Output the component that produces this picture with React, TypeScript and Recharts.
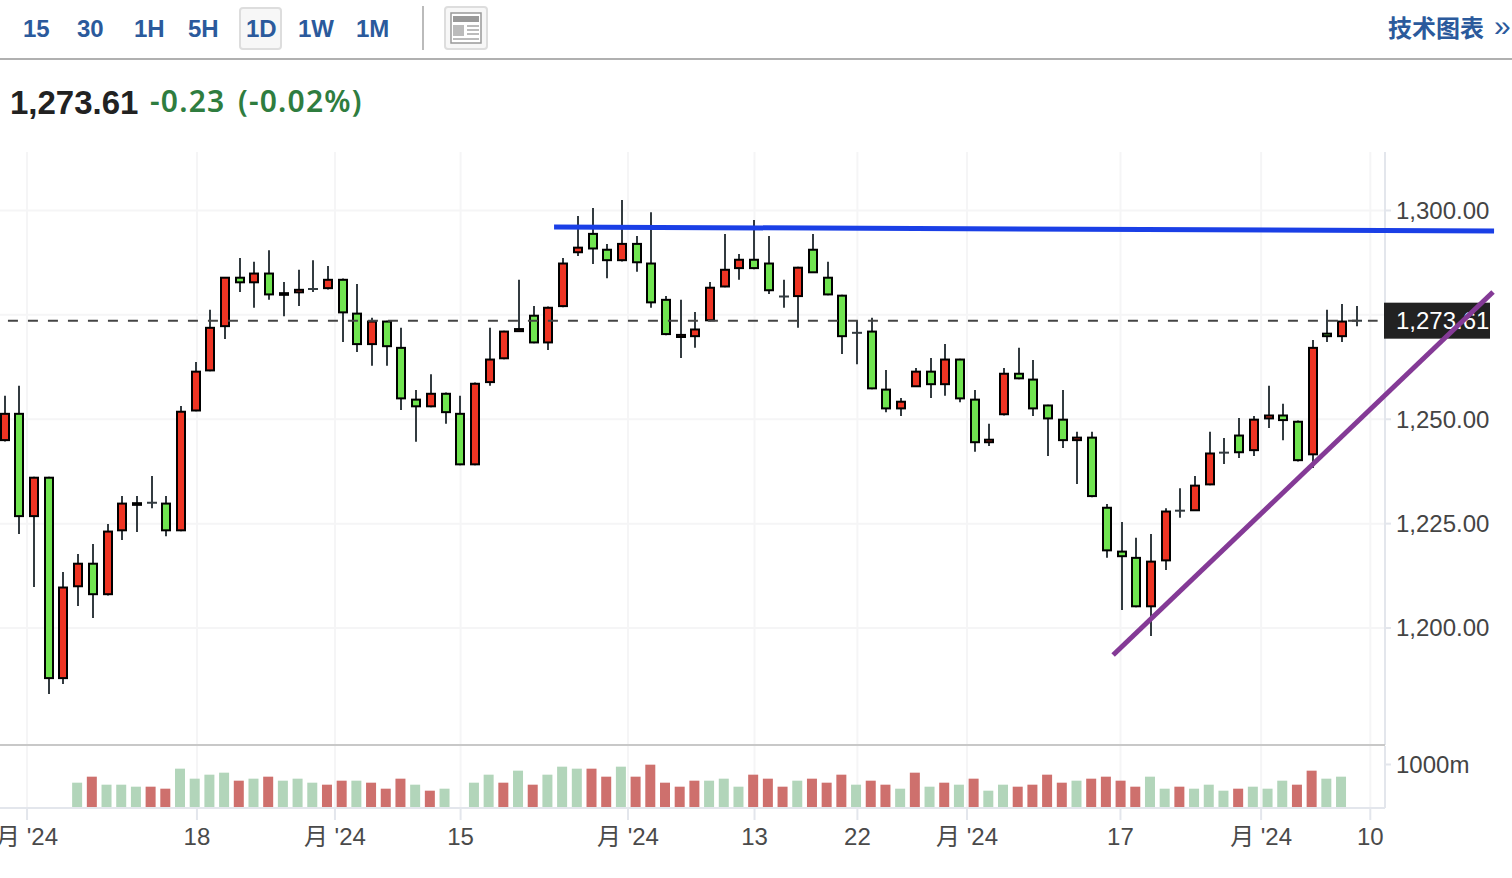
import React from "react";
import { Bar, CartesianGrid, ComposedChart, ReferenceLine, XAxis, YAxis } from "recharts";

const opens = [1245.0,1251.3,1226.8,1236.0,1188.0,1210.0,1215.4,1208.1,1223.4,1229.5,1230.0,1229.8,1223.4,1252.1,1261.7,1272.3,1283.9,1282.8,1284.9,1279.8,1280.4,1281.2,1281.4,1283.4,1275.3,1268.0,1273.4,1267.1,1254.7,1253.1,1256.1,1251.3,1239.2,1258.9,1264.6,1271.1,1274.8,1268.4,1277.1,1290.0,1294.4,1290.6,1288.1,1292.0,1287.3,1278.6,1269.7,1269.9,1273.7,1281.8,1286.2,1288.2,1287.3,1279.4,1279.5,1290.6,1283.9,1279.6,1270.7,1271.0,1257.1,1252.6,1257.9,1261.4,1258.4,1264.3,1254.7,1244.5,1251.2,1260.9,1259.5,1253.3,1249.9,1245.0,1245.6,1228.8,1218.3,1216.8,1205.2,1216.2,1228.1,1228.2,1234.4,1242.0,1246.1,1242.6,1250.2,1250.9,1249.4,1241.6,1270.5,1269.9,1273.6];
const highs = [1255.6,1258.0,1236.2,1236.2,1213.4,1217.7,1220.1,1224.9,1231.6,1231.6,1236.4,1231.6,1253.2,1263.7,1276.2,1284.1,1288.6,1287.7,1290.5,1282.9,1285.8,1288.1,1286.7,1283.7,1282.4,1274.3,1273.6,1271.9,1257.0,1260.8,1256.4,1255.6,1258.8,1271.9,1271.2,1283.4,1277.1,1277.0,1288.6,1298.7,1300.6,1292.0,1302.5,1293.9,1299.6,1279.5,1278.6,1275.7,1282.9,1294.4,1289.6,1297.7,1293.9,1283.4,1286.5,1294.4,1287.7,1279.8,1273.6,1274.3,1261.8,1255.1,1262.3,1264.7,1268.0,1264.5,1257.0,1248.9,1262.3,1267.1,1264.2,1253.5,1257.0,1247.0,1247.0,1229.7,1225.4,1221.6,1222.5,1228.7,1233.5,1236.4,1247.0,1245.5,1250.3,1250.8,1258.0,1253.7,1249.7,1269.0,1276.2,1277.6,1277.1];
const lows = [1244.7,1222.5,1209.8,1184.2,1186.6,1205.3,1202.4,1207.8,1221.1,1223.0,1228.7,1222.0,1223.2,1251.9,1261.5,1269.2,1280.5,1276.7,1278.6,1274.7,1277.1,1280.5,1281.1,1268.5,1266.1,1262.8,1262.8,1252.2,1244.6,1252.9,1248.9,1239.0,1239.0,1258.0,1264.4,1270.9,1268.2,1266.6,1276.8,1289.1,1287.2,1283.8,1287.8,1285.3,1276.7,1270.1,1264.7,1267.1,1273.5,1281.6,1283.4,1285.9,1280.0,1276.7,1271.9,1285.0,1279.7,1265.6,1263.2,1257.2,1251.7,1250.8,1257.7,1255.1,1255.6,1254.1,1242.2,1243.6,1250.9,1259.6,1250.8,1241.2,1243.1,1234.5,1231.3,1216.8,1204.3,1205.0,1198.1,1213.9,1226.4,1228.0,1234.2,1239.3,1240.7,1241.2,1247.9,1245.0,1239.9,1238.3,1268.5,1268.5,1272.3];
const closes = [1251.3,1226.8,1236.0,1188.0,1209.7,1215.4,1208.1,1223.1,1229.8,1229.9,1230.0,1223.4,1251.8,1261.4,1271.9,1283.9,1282.8,1284.9,1279.9,1280.2,1281.0,1281.2,1283.4,1275.6,1268.0,1273.4,1267.5,1255.0,1253.1,1256.1,1251.7,1239.2,1258.5,1264.3,1271.0,1271.6,1268.4,1276.7,1287.3,1291.1,1290.9,1288.1,1292.0,1287.6,1278.0,1270.4,1270.2,1271.5,1281.5,1285.8,1288.2,1286.2,1280.9,1279.4,1286.3,1285.2,1279.9,1269.9,1270.7,1257.4,1252.6,1254.2,1261.4,1258.4,1264.3,1255.0,1244.5,1245.1,1260.9,1259.8,1252.6,1250.2,1245.0,1245.6,1231.6,1218.6,1217.2,1205.2,1215.9,1227.9,1228.1,1234.1,1241.8,1242.0,1242.1,1249.9,1250.9,1249.8,1240.2,1267.1,1269.9,1273.4,1273.6];

const volumes = [null,null,null,null,null,582,720,536,536,490,490,444,904,674,766,812,628,674,720,628,674,582,536,628,628,582,444,674,536,398,444,null,582,766,582,858,536,766,950,904,904,720,950,720,996,582,490,628,628,674,490,766,674,490,628,674,582,766,536,628,536,444,812,490,582,536,674,398,536,490,536,766,582,628,674,720,628,490,720,444,490,444,536,398,444,490,444,628,536,858,674,720,null];
const volumeTones = "-----grgggrrggggrgrgggrrgrrrgr-gggrgrgggrrgrrrrrgggrrrgrrrgrrgrgrgrggrrrrgrrrrggrgggrgggrrggg-";

const xTicks = [1.5,13.06,22.45,31.0,42.39,51.0,58.0,65.46,75.9,85.47,92.9];
const xTickLabels = ["月 '24","18","月 '24","15","月 '24","13","22","月 '24","17","月 '24","10"];
const priceTicks = [1200,1225,1250,1273.61,1300];
const priceGrid = [1200,1225,1250,1275,1300];
const volumeTicks = [1000];
const lastPrice = 1273.61;
const intervals = ["15","30","1H","5H","1D","1W","1M"];
const PRICE_DOMAIN: [number, number] = [1171.98, 1314.01];
const X_DOMAIN: [number, number] = [-0.34, 93.9];
const blueLine = [{ x: 37.36, y: 1296.05 },{ x: 101.32, y: 1295.09 }];
const purpleLine = [{ x: 75.4, y: 1193.53 },{ x: 101.25, y: 1280.48 }];
const dashedSegment = [{ x: 0.2, y: lastPrice },{ x: 93.4, y: lastPrice }];
const paneDivider = [{ x: X_DOMAIN[0], y: PRICE_DOMAIN[0] },{ x: X_DOMAIN[1], y: PRICE_DOMAIN[0] }];

const rows = opens.map((open, i) => ({ i, open, high: highs[i], low: lows[i], close: closes[i], range: [lows[i], highs[i]], volume: volumes[i], tone: volumeTones[i] }));

const FONT = '"Liberation Sans","Noto Sans CJK SC",sans-serif';
const GRID = "#f5f5f6";
const AXIS = "#e3e6ec";

const Candle = (props: any) => {
  const { x, y, width, height, payload } = props;
  const { open, high, low, close } = payload;
  const at = (v: number) => y + ((high - v) / (high - low)) * height;
  const cx = Math.round(x + width / 2);
  const top = at(Math.max(open, close));
  const bottom = at(Math.min(open, close));
  const wick = "#333b40";
  if (open === close) {
    return (
      <g>
        <line x1={cx} x2={cx} y1={y} y2={y + height} stroke={wick} strokeWidth={2} />
        <line x1={cx - 5} x2={cx + 5} y1={top} y2={top} stroke={wick} strokeWidth={2} />
      </g>
    );
  }
  return (
    <g>
      <line x1={cx} x2={cx} y1={y} y2={y + height} stroke={wick} strokeWidth={2} />
      <rect x={cx - 4} y={top} width={8} height={bottom - top} fill={close > open ? "#ee3423" : "#70e450"} stroke="#000" strokeWidth={2} />
    </g>
  );
};

const VolumeBar = (props: any) => {
  const { x, y, width, height, payload } = props;
  return <rect x={x - 1} y={y} width={width} height={height} fill={payload.tone === "r" ? "#ce706d" : "#b2d5ba"} />;
};

const PriceTick = (props: any) => {
  const { x, y, payload } = props;
  const text = payload.value.toLocaleString("en-US", { minimumFractionDigits: 2, maximumFractionDigits: 2 });
  if (payload.value === lastPrice) {
    return (
      <g>
        <rect x={x - 12} y={y - 18} width={106} height={36} fill="#222" />
        <text x={x} y={y} dy="0.35em" fontFamily={FONT} fontSize={24} fill="#fff">{text}</text>
      </g>
    );
  }
  return <text x={x} y={y} dy="0.35em" fontFamily={FONT} fontSize={24} fill="#444">{text}</text>;
};

const VolumeTick = (props: any) => (
  <text x={props.x} y={props.y} dy="0.36em" fontFamily={FONT} fontSize={24} fill="#444">{props.payload.value}m</text>
);

const DateTick = (props: any) => (
  <text x={props.x} y={props.y} dy={25} textAnchor="middle" fontFamily={FONT} fontSize={24} fill="#4a4a4a">
    {xTickLabels[xTicks.indexOf(props.payload.value)]}
  </text>
);

const headerBlue = "#2b5a9c";
const quoteGreen: React.CSSProperties = { position: "absolute", top: 81, fontSize: 30, lineHeight: "40px", fontWeight: 600, color: "#2f7d3f", fontFamily: '"Noto Sans",sans-serif', letterSpacing: 1.2 };

export default function App() {
  return (
    <div style={{ position: "absolute", left: 0, top: 0, width: 1512, height: 878, overflow: "hidden", background: "#fff", fontFamily: FONT }}>
      {/* toolbar */}
      <div style={{ position: "absolute", left: 239, top: 7, width: 39, height: 39, border: "2px solid #ddd", borderRadius: 4, background: "#f7f7f7" }} />
      {intervals.map((t, k) => (
        <span key={t} style={{ position: "absolute", left: [23, 77, 134, 188, 246, 298, 356][k], top: 14, fontSize: 24, lineHeight: "29px", fontWeight: 700, color: headerBlue }}>{t}</span>
      ))}
      <div style={{ position: "absolute", left: 422, top: 6, width: 2, height: 44, background: "#bbb" }} />
      <div style={{ position: "absolute", left: 444, top: 6, width: 40, height: 40, border: "2px solid #ddd", borderRadius: 4, background: "#f7f7f7" }}>
        <svg width={40} height={40} style={{ display: "block" }}>
          <rect x={5} y={5} width={30} height={30} fill="#fff" stroke="#999" strokeWidth={1.5} />
          <rect x={7} y={8} width={26} height={6} fill="#999" />
          <rect x={7} y={17} width={11} height={11} fill="#bbb" />
          <rect x={21} y={17} width={12} height={2} fill="#bbb" />
          <rect x={21} y={21} width={12} height={2} fill="#bbb" />
          <rect x={21} y={25} width={12} height={2} fill="#bbb" />
          <rect x={7} y={30} width={26} height={2} fill="#bbb" />
        </svg>
      </div>
      <span style={{ position: "absolute", left: 1388, top: 12, fontSize: 24, lineHeight: "30px", fontWeight: 700, color: headerBlue, fontFamily: '"Noto Sans CJK SC",sans-serif' }}>技术图表</span>
      <span style={{ position: "absolute", left: 1494, top: 11, fontSize: 30, lineHeight: "30px", color: headerBlue }}>»</span>
      <div style={{ position: "absolute", left: 0, top: 58, width: 1512, height: 2, background: "#b0b0b0" }} />
      {/* quote */}
      <span style={{ position: "absolute", left: 10, top: 84, fontSize: 33, lineHeight: "38px", fontWeight: 700, color: "#222" }}>1,273.61</span>
      <span style={{ ...quoteGreen, left: 150 }}>-0.23</span>
      <span style={{ ...quoteGreen, left: 238 }}>(-0.02%)</span>

      {/* volume pane with date axis */}
      <div style={{ position: "absolute", left: 0, top: 0 }}>
        <ComposedChart width={1512} height={878} data={rows} margin={{ top: 746, right: 0, bottom: 0, left: 0 }} barCategoryGap={0}>
          <CartesianGrid stroke={GRID} strokeWidth={2} horizontal={false} verticalValues={xTicks} />
          <XAxis dataKey="i" type="number" domain={X_DOMAIN} allowDataOverflow ticks={xTicks} interval={0} height={70} tickSize={12} tickMargin={0} axisLine={{ stroke: AXIS, strokeWidth: 2 }} tickLine={{ stroke: AXIS, strokeWidth: 2 }} tick={<DateTick />} />
          <YAxis yAxisId="vol" orientation="right" width={127} domain={[0, 1425]} ticks={volumeTicks} tickSize={6} tickMargin={5} axisLine={{ stroke: AXIS, strokeWidth: 2 }} tickLine={{ stroke: AXIS, strokeWidth: 2 }} tick={<VolumeTick />} />
          <Bar yAxisId="vol" dataKey="volume" barSize={10} isAnimationActive={false} shape={<VolumeBar />} />
        </ComposedChart>
      </div>

      {/* price pane */}
      <div style={{ position: "absolute", left: 0, top: 0 }}>
        <ComposedChart width={1512} height={878} data={rows} margin={{ top: 152, right: 0, bottom: 133, left: 0 }} barCategoryGap={0}>
          <CartesianGrid yAxisId="price" stroke={GRID} strokeWidth={2} horizontalValues={priceGrid} verticalValues={xTicks} />
          <XAxis dataKey="i" type="number" domain={X_DOMAIN} allowDataOverflow ticks={xTicks} interval={0} hide />
          <YAxis yAxisId="price" orientation="right" width={127} domain={PRICE_DOMAIN} allowDataOverflow ticks={priceTicks} interval={0} tickSize={6} tickMargin={5} axisLine={{ stroke: AXIS, strokeWidth: 2 }} tickLine={{ stroke: AXIS, strokeWidth: 2 }} tick={<PriceTick />} />
          <ReferenceLine yAxisId="price" segment={dashedSegment} stroke="#444" strokeWidth={2} strokeDasharray="10 10" ifOverflow="visible" />
          <Bar yAxisId="price" dataKey="range" barSize={10} isAnimationActive={false} shape={<Candle />} />
        </ComposedChart>
      </div>

      {/* drawn trend lines sit above the price label */}
      <div style={{ position: "absolute", left: 0, top: 0 }}>
        <ComposedChart width={1512} height={878} data={rows} margin={{ top: 152, right: 127, bottom: 133, left: 0 }}>
          <XAxis dataKey="i" type="number" domain={X_DOMAIN} allowDataOverflow hide />
          <YAxis yAxisId="price" domain={PRICE_DOMAIN} allowDataOverflow hide />
          <ReferenceLine yAxisId="price" segment={paneDivider} stroke="#c8c8c8" strokeWidth={2} ifOverflow="visible" />
          <ReferenceLine yAxisId="price" segment={blueLine} stroke="#1a3fe6" strokeWidth={5} ifOverflow="visible" />
          <ReferenceLine yAxisId="price" segment={purpleLine} stroke="#843a96" strokeWidth={5} ifOverflow="visible" />
        </ComposedChart>
      </div>
    </div>
  );
}
